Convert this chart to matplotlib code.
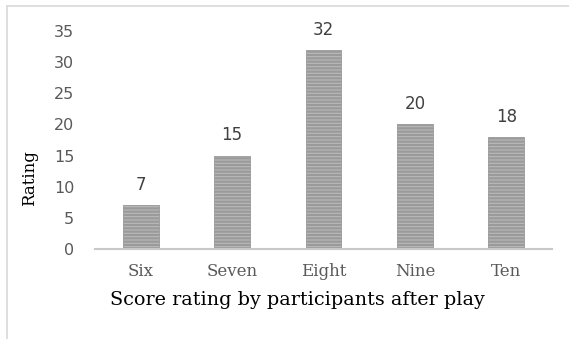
import matplotlib.pyplot as plt
from matplotlib.lines import Line2D

# data
categories = ['Six', 'Seven', 'Eight', 'Nine', 'Ten']
ratings = [7, 15, 32, 20, 18]
yticks = [0, 5, 10, 15, 20, 25, 30, 35]

plt.rcParams['hatch.color'] = '#5c5c5c'
plt.rcParams['hatch.linewidth'] = 1.6

fig = plt.figure(figsize=(5.69, 3.39), dpi=100)
ax = fig.add_axes([95/569, 1-249/339, 457/569, 218/339])

xs = range(len(categories))
bars = ax.bar(xs, ratings, width=0.39, color='#bababa', hatch='-----',
              edgecolor='#9a9a9a', linewidth=0.6)

for x, v in zip(xs, ratings):
	ax.annotate(str(v), (x, v), xytext=(0, 14.5), textcoords='offset points',
				ha='center', va='center', fontsize=12, color='#404040',
				family='DejaVu Sans')

ax.set_xlim(-0.5, len(categories) - 0.5)
ax.set_ylim(0, 35)
ax.set_yticks(yticks)
ax.set_yticklabels([str(t) for t in yticks], family='DejaVu Sans',
				   fontsize=11.5, color='#595959')
ax.set_xticks(list(xs))
ax.set_xticklabels(categories, family='DejaVu Serif', fontsize=12, color='#595959')
ax.tick_params(axis='both', length=0)
ax.tick_params(axis='y', pad=15)
ax.tick_params(axis='x', pad=10)

for s in ['top', 'right', 'left']:
	ax.spines[s].set_visible(False)
ax.spines['bottom'].set_color('#c8c8c8')
ax.spines['bottom'].set_linewidth(1.5)

ax.set_xlabel('Score rating by participants after play', family='DejaVu Serif',
			  fontsize=13.8, color='black')
ax.xaxis.set_label_coords((297-95)/457, -(300-249)/218)
ax.xaxis.label.set_va('center')
ax.set_ylabel('Rating', family='DejaVu Serif', fontsize=12, color='black')
ax.yaxis.set_label_coords(-(95-30)/457, (249-178)/218)
ax.yaxis.label.set_va('center')

# frame lines on top and left
fig.add_artist(Line2D([7/569, 7/569], [0, 1-6/339], transform=fig.transFigure,
					  color='#d9d9d9', linewidth=1.2))
fig.add_artist(Line2D([7/569, 1], [1-6/339, 1-6/339], transform=fig.transFigure,
					  color='#d9d9d9', linewidth=1.2))

fig.savefig('out.png', dpi=100)
